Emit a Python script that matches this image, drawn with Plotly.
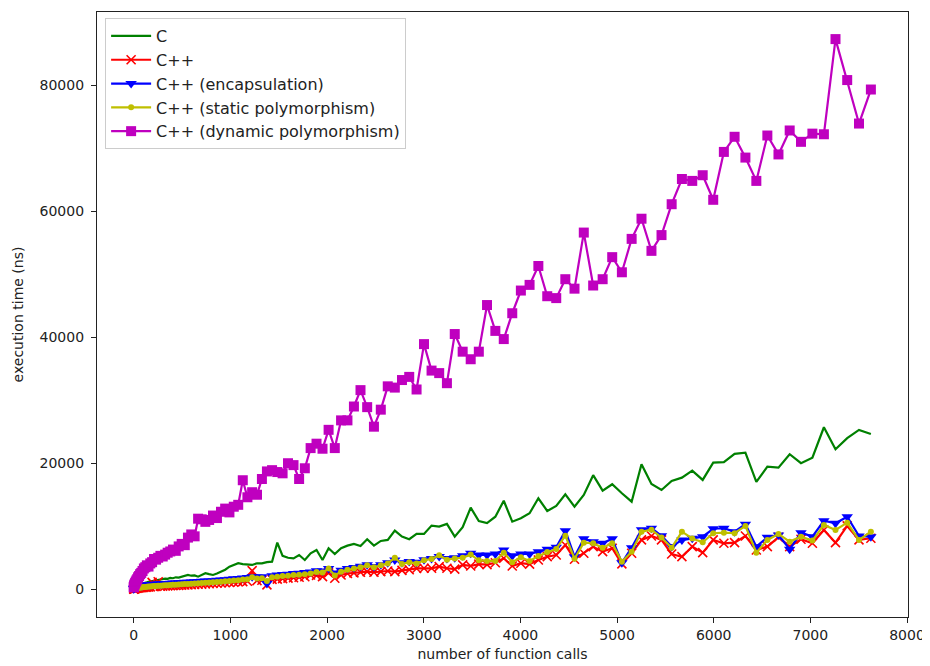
import plotly.graph_objects as go

calls = [
    0, 1, 3, 6, 10, 15, 21, 28, 36, 45,
    55, 66, 78, 91, 105, 120, 136, 153, 171, 190,
    210, 231, 253, 276, 300, 325, 351, 378, 406, 435,
    465, 496, 528, 561, 595, 630, 666, 703, 741, 780,
    820, 861, 903, 946, 990, 1035, 1081, 1128, 1176, 1225,
    1275, 1326, 1378, 1431, 1485, 1540, 1596, 1653, 1711, 1770,
    1830, 1891, 1953, 2016, 2080, 2145, 2211, 2278, 2346, 2415,
    2485, 2556, 2628, 2701, 2775, 2850, 2926, 3003, 3081, 3160,
    3240, 3321, 3403, 3486, 3570, 3655, 3741, 3828, 3916, 4005,
    4095, 4186, 4278, 4371, 4465, 4560, 4656, 4753, 4851, 4950,
    5050, 5151, 5253, 5356, 5460, 5565, 5671, 5778, 5886, 5995,
    6105, 6216, 6328, 6441, 6555, 6670, 6786, 6903, 7021, 7140,
    7260, 7381, 7503, 7626,
]

c_time = [
    200, 250, 300, 350, 400, 450, 500, 550, 600, 700,
    750, 800, 850, 900, 1000, 1050, 1100, 1200, 1250, 1300,
    1350, 1400, 1500, 1550, 1600, 1700, 1650, 1800, 1750, 1900,
    1850, 2000, 2100, 2270, 2150, 2200, 2000, 2300, 2540, 2400,
    2270, 2500, 2800, 3100, 3590, 3900, 4130, 4000, 3950, 3860,
    4130, 4100, 4300, 4380, 7400, 5300, 5000, 4900, 5440, 4650,
    5710, 6240, 4650, 6510, 5600, 6510, 6920, 7190, 6870, 7940,
    6920, 7670, 7830, 9300, 8350, 7940, 8780, 8780, 10100, 9940,
    10370, 8350, 9840, 12950, 10840, 10500, 11520, 14040, 10730, 11270,
    12060, 14440, 12430, 13220, 15080, 13110, 14970, 18100, 15650, 16670,
    15240, 13900, 19840, 16710, 15760, 17190, 17710, 18830, 17350, 20100,
    20160, 21480, 21680, 17030, 19460, 19300, 21430, 20000, 20890, 25710,
    22220, 23970, 25290, 24650,
]

cpp_time = [
    30, 40, 60, 80, 100, 120, 140, 160, 180, 200,
    220, 240, 260, 280, 300, 320, 340, 360, 380, 1100,
    420, 440, 1200, 480, 500, 520, 540, 560, 580, 600,
    620, 650, 680, 700, 730, 760, 790, 820, 850, 880,
    910, 950, 990, 1030, 1070, 1120, 1170, 1220, 1270, 2950,
    1380, 1430, 700, 1560, 1620, 1700, 1760, 1830, 1900, 1980,
    2270, 2200, 2000, 2600, 1750, 2270, 2500, 2600, 2700, 2800,
    2700, 2800, 2900, 2800, 3000, 3100, 3300, 3330, 3330, 3600,
    3330, 3200, 3860, 3700, 4000, 3900, 4200, 4920, 3700, 4130,
    4000, 4650, 5170, 5440, 7030, 4760, 5710, 6760, 5970, 6510,
    4020, 5710, 7830, 8460, 7830, 5600, 5170, 6760, 5810, 7830,
    7300, 7400, 8460, 6240, 6760, 8250, 6760, 7940, 7300, 9410,
    7400, 10050, 7830, 8100,
]

encap_time = [
    80, 120, 150, 200, 250, 300, 350, 400, 450, 480,
    500, 530, 560, 600, 620, 650, 680, 700, 720, 750,
    780, 800, 830, 850, 880, 900, 930, 950, 980, 1000,
    1030, 1060, 1100, 1130, 1160, 1200, 1230, 1260, 1300, 1330,
    1370, 1420, 1470, 1520, 1580, 1650, 1720, 1800, 1850, 2000,
    1950, 2000, 900, 2150, 2250, 2350, 2400, 2500, 2550, 2650,
    2750, 2950, 2900, 3300, 2600, 3000, 3300, 3450, 3650, 3900,
    3600, 3900, 4200, 4650, 4200, 4400, 4300, 4700, 4900, 5200,
    4900, 5000, 5300, 5710, 5440, 5440, 5600, 6240, 5300, 5600,
    5600, 5970, 6350, 6670, 9300, 5170, 8000, 7560, 7300, 8000,
    4200, 6600, 9450, 9700, 8500, 6800, 7800, 8100, 8350, 9600,
    9680, 9140, 10320, 6760, 8250, 8620, 6350, 8980, 8350, 10890,
    10480, 11520, 8460, 8350,
]

static_time = [
    50, 60, 80, 100, 120, 140, 160, 180, 200, 230,
    250, 280, 300, 330, 350, 380, 400, 420, 450, 470,
    500, 520, 550, 570, 600, 620, 650, 680, 700, 730,
    760, 790, 820, 850, 880, 920, 950, 990, 1030, 1070,
    1100, 1150, 1200, 1260, 1320, 1380, 1450, 1550, 1600, 1900,
    1700, 1750, 1300, 1900, 2000, 2100, 2150, 2250, 2300, 2400,
    2500, 2750, 2650, 3300, 2200, 2800, 3100, 3300, 3500, 3800,
    3500, 3800, 4100, 5000, 4000, 4300, 4100, 4600, 4800, 5400,
    4700, 4900, 5000, 5500, 4600, 4500, 4500, 5800, 4300, 5080,
    4500, 5280, 5900, 6400, 8500, 4850, 7400, 7300, 6600, 7300,
    4380, 5970, 9140, 9450, 8200, 6600, 9140, 8050, 7450, 8890,
    8980, 8890, 10050, 5810, 7830, 8780, 7560, 8350, 7720, 10210,
    9410, 10570, 7830, 9140,
]

dyn_time = [
    300, 400, 500, 700, 800, 1000, 1200, 1400, 1600, 1900,
    2100, 2400, 2600, 2900, 3300, 3500, 3800, 3600, 4100, 4300,
    4800, 4700, 5000, 5300, 5200, 5500, 5800, 6000, 6300, 6100,
    6800, 7200, 7000, 8200, 8700, 8400, 11200, 11100, 10700, 11000,
    11700, 11300, 12300, 12800, 12200, 13100, 13400, 17300, 14600, 15400,
    15000, 17500, 18700, 18900, 18600, 18400, 20000, 19700, 17500, 19200,
    22400, 23100, 22300, 25300, 22400, 26800, 26800, 29000, 31600, 28900,
    25800, 28500, 32200, 32000, 33200, 33700, 31700, 38900, 34700, 34300,
    32700, 40500, 37700, 36500, 37700, 45100, 41000, 39700, 43800, 47400,
    48300, 51300, 46500, 46200, 49200, 47700, 56600, 48200, 49200, 52700,
    50300, 55600, 58800, 53700, 56200, 61100, 65100, 64800, 65700, 61800,
    69400, 71800, 68500, 64800, 72000, 69000, 72800, 71000, 72300, 72200,
    87300, 80800, 73900, 79300,
]

x_ticks = [0, 1000, 2000, 3000, 4000, 5000, 6000, 7000, 8000]
y_ticks = [0, 20000, 40000, 60000, 80000]

FONT = "DejaVu Sans"
TXT = "#222222"

fig = go.Figure()
fig.add_trace(go.Scatter(
    x=calls, y=c_time, name="C", mode="lines", legendgroup="g1",
    line=dict(color="#008000", width=2.2),
))
fig.add_trace(go.Scatter(
    x=calls, y=cpp_time, name="C++", mode="lines+markers", legendgroup="g2",
    line=dict(color="#ff0000", width=2.2),
    marker=dict(symbol="x-thin", size=9, color="#ff0000",
                line=dict(color="#ff0000", width=1.6)),
))
fig.add_trace(go.Scatter(
    x=calls, y=encap_time, name="C++ (encapsulation)", mode="lines+markers", legendgroup="g3",
    line=dict(color="#0000ff", width=2.2),
    marker=dict(symbol="triangle-down", size=10, color="#0000ff"),
))
fig.add_trace(go.Scatter(
    x=calls, y=static_time, name="C++ (static polymorphism)", mode="lines+markers", legendgroup="g4",
    line=dict(color="#bfbf00", width=2.2),
    marker=dict(symbol="circle", size=6, color="#bfbf00"),
))
fig.add_trace(go.Scatter(
    x=calls, y=dyn_time, name="C++ (dynamic polymorphism)", mode="lines+markers", legendgroup="g5",
    line=dict(color="#bf00bf", width=2.2),
    marker=dict(symbol="square", size=10, color="#bf00bf"),
))

axis_common = dict(
    showgrid=False, zeroline=False, automargin=False,
    showline=True, mirror=True, linecolor=TXT, linewidth=1.2,
    ticks="outside", ticklen=5, tickwidth=1.2, tickcolor=TXT,
    tickfont=dict(family=FONT, size=14, color=TXT),
)

# the page body adds an 8 px offset, so margins are set to land the frame
# at the reference's pixel positions
fig.update_layout(
    width=930, height=666,
    margin=dict(l=89, r=30, t=4, b=57),
    paper_bgcolor="white", plot_bgcolor="white",
    font=dict(family=FONT, size=14, color=TXT),
    xaxis=dict(range=[-380, 8010], tickvals=x_ticks, tickformat="d",
               title=dict(text="number of function calls", standoff=7,
                          font=dict(family=FONT, size=14, color=TXT)),
               **axis_common),
    yaxis=dict(range=[-4400, 91600], tickvals=y_ticks, tickformat="d",
               ticklabelstandoff=4,
               title=dict(text="execution time (ns)", standoff=12,
                          font=dict(family=FONT, size=14, color=TXT)),
               **axis_common),
    legend=dict(x=0.01, y=0.99, xanchor="left", yanchor="top",
                bgcolor="rgba(255,255,255,0.85)", bordercolor="#cccccc", borderwidth=1,
                tracegroupgap=0, itemwidth=40,
                font=dict(family=FONT, size=16, color=TXT)),
    showlegend=True,
)

fig.write_html("out.html")
